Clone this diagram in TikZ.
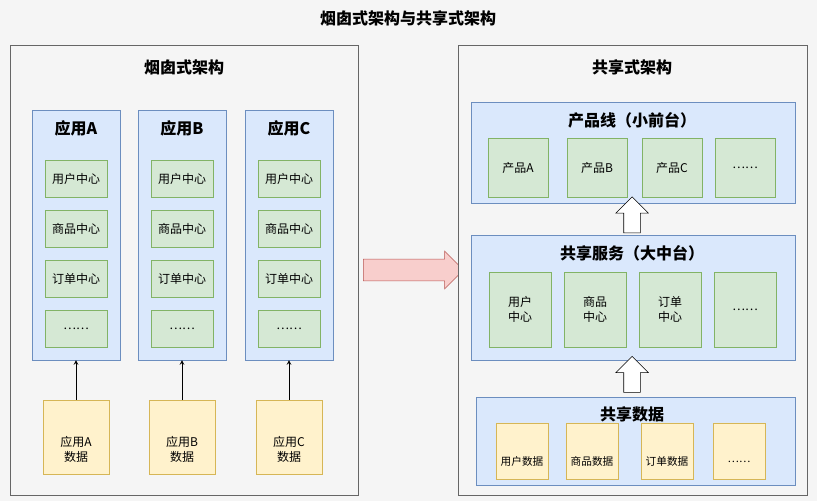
\documentclass[tikz,border=0pt]{standalone}
\usepackage{fontspec}
\setmainfont{Noto Sans CJK SC}
\usetikzlibrary{positioning}
\usetikzlibrary{shapes.geometric, shapes.arrows, arrows}
\definecolor{bgGray}{HTML}{F5F5F5}
\definecolor{panelLine}{HTML}{666666}
\definecolor{blueFill}{HTML}{DAE8FC}
\definecolor{blueLine}{HTML}{6C8EBF}
\definecolor{greenFill}{HTML}{D5E8D4}
\definecolor{greenLine}{HTML}{82B366}
\definecolor{dbFill}{HTML}{FFF2CC}
\definecolor{dbLine}{HTML}{D6B656}
\definecolor{redFill}{HTML}{F8CECC}
\definecolor{redLine}{HTML}{B85450}
\tikzstyle{panel} = [draw=panelLine, fill=bgGray]
\tikzstyle{group} = [draw=blueLine, fill=blueFill]
\tikzstyle{module} = [draw=greenLine, fill=greenFill, minimum width=46.5pt, minimum height=27.75pt, inner sep=1pt, align=center, font=\small]
\tikzstyle{db} = [cylinder, shape border rotate=90, aspect=1.1, draw=dbLine, fill=dbFill, inner sep=0pt]
\tikzstyle{heading} = [font=\large\bfseries]
\tikzstyle{arrow} = [semithick,->,>=stealth]
\tikzstyle{hollow} = [single arrow, draw=black, fill=white, single arrow head extend=6pt, minimum height=27pt, inner sep=6pt, shape border rotate=90]
\begin{document}
\begin{tikzpicture}[x=0.75pt,y=-0.75pt]
%Background
\fill[bgGray] (0,0) rectangle (817,501);
\node[heading] (title) at (408,18) {烟囱式架构与共享式架构};

%Left panel
\draw[panel] (10,45) rectangle (358,495);
\node[heading] (leftTitle) at (184,67) {烟囱式架构};
\foreach \name/\cx in {A/76,B/182,C/289} {
  \draw[group] (\cx-44,110) rectangle (\cx+44,360);
  \node[heading] (app\name) at (\cx,128) {应用\name};
  \node[module] (user\name) at (\cx,178.5) {用户中心};
  \node[module] (goods\name) at (\cx,228.5) {商品中心};
  \node[module] (order\name) at (\cx,278.5) {订单中心};
  \node[module] (more\name) at (\cx,328.5) {\ldots\ldots};
  \coordinate (colBot\name) at (\cx,360);
  \node[db, minimum width=49.5pt, minimum height=56pt,
    label={[align=center, font=\small, yshift=-9pt]center:应用\name\\数据}] (data\name) at (\cx,437.5) {};
  \draw[arrow] (data\name.top) -- (colBot\name);
}

%Transition
\node[single arrow, draw=redLine, fill=redFill, single arrow head extend=6pt, minimum height=75pt, inner sep=8pt] (shift) at (408,270) {};

%Right panel
\draw[panel] (458,45) rectangle (807,495);
\node[heading] (rightTitle) at (632,67) {共享式架构};

\draw[group] (471,102) rectangle (795,203);
\node[heading] (front) at (632,120) {产品线（小前台）};
\foreach \name/\txt/\cx in {pA/产品A/518,pB/产品B/597,pC/产品C/672,pD/\ldots\ldots/745}
  \node[module, minimum width=45pt, minimum height=44pt] (\name) at (\cx,167.5) {\txt};

\node[hollow] (upOne) at (632,219) {};

\draw[group] (471,235) rectangle (795,360);
\node[heading] (middle) at (632,253) {共享服务（大中台）};
\foreach \name/\txt/\cx in {sA/用户\\中心/520,sB/商品\\中心/595,sC/订单\\中心/670,sD/\ldots\ldots/745}
  \node[module, minimum width=46.5pt, minimum height=56pt] (\name) at (\cx,309.5) {\txt};

\node[hollow] (upTwo) at (632,378.5) {};

\draw[group] (476,397) rectangle (795,485);
\node[heading] (shared) at (632,414) {共享数据};
\foreach \name/\txt/\cx in {dA/用户数据/522,dB/商品数据/592,dC/订单数据/667,dD/\ldots\ldots/739}
  \node[db, minimum width=39pt, minimum height=42pt,
    label={[font=\footnotesize, yshift=-8pt]center:\txt}] (\name) at (\cx,451) {};
\end{tikzpicture}
\end{document}
